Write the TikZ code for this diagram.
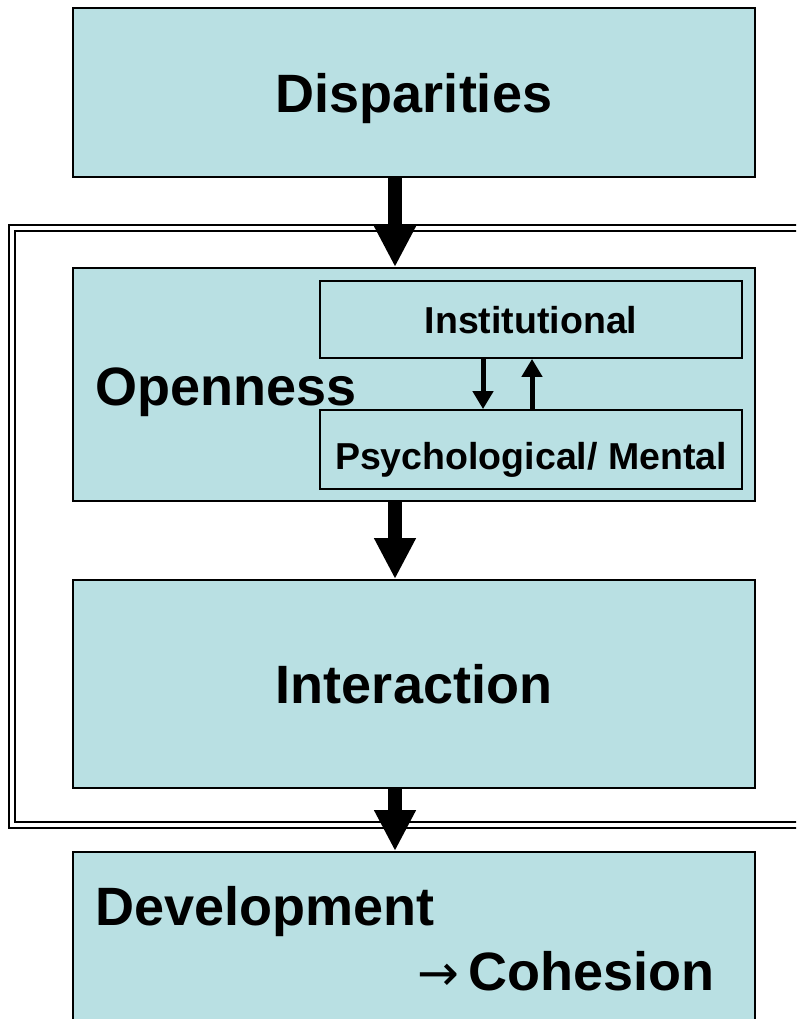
\documentclass[tikz,border=0pt]{standalone}
\usepackage{fontspec}
\setmainfont{Liberation Sans}
\newfontfamily\arrowfont{DejaVu Sans}
\usetikzlibrary{arrows.meta}
\definecolor{boxfill}{RGB}{185,224,227}
\begin{document}
\begin{tikzpicture}[x=1pt,y=-1pt,
  box/.style={draw=black,line width=1.8pt,fill=boxfill,rectangle,inner sep=0pt},
  big/.style={font=\fontsize{54}{60}\selectfont\bfseries,inner sep=0pt},
  small/.style={font=\fontsize{37.5}{42}\selectfont\bfseries,inner sep=0pt},
  fat/.style={line width=14pt,-{Triangle[width=39pt,length=41pt]}},
  smallarrow/.style={line width=5pt,-{Triangle[width=20pt,length=18pt]}},
  frameline/.style={draw=black}]
\useasboundingbox (0,0) rectangle (796,1019);
\clip (0,0) rectangle (796,1019);
\fill[white] (0,0) rectangle (796,1019);
% double frame
\draw[frameline,line width=2.4pt] (9,225) rectangle (830,828);
\draw[frameline,line width=2.8pt] (15,231) rectangle (830,822);
% boxes
\node[box, minimum width=682pt, minimum height=169pt] (disp) at (414,92.5) {};
\node[box, minimum width=682pt, minimum height=233pt] (open) at (414,384.5) {};
\node[box, minimum width=422pt, minimum height=77pt] (inst) at (531,319.5) {};
\node[box, minimum width=422pt, minimum height=79pt] (psy) at (531,449.5) {};
\node[box, minimum width=682pt, minimum height=208pt] (inter) at (414,684) {};
\node[box, minimum width=682pt, minimum height=188pt] (dev) at (414,946) {};
% texts
\node[big, anchor=base] (tdisp) at (414,113) {Disparities};
\node[big, anchor=base west] (topen) at (95,405) {Openness};
\node[small, anchor=base] (tinst) at (531,333) {Institutional};
\node[small, anchor=base] (tpsy) at (531,469) {Psychological/ Mental};
\node[big, anchor=base] (tint) at (414,703) {Interaction};
\node[big, anchor=base west] (tdev) at (95,925) {Development};
\node[big, anchor=base east] (tcoh) at (715,990) {{\arrowfont\fontsize{50}{54}\fontseries{m}\selectfont →}\,Cohesion};
% arrows
\coordinate (ax) at (395,0);
\coordinate (dx) at (483,0);
\coordinate (ux) at (532,0);
\draw[fat] (disp.south -| ax) -- (open.north -| ax);
\draw[fat] (open.south -| ax) -- (inter.north -| ax);
\draw[fat] (inter.south -| ax) -- (dev.north -| ax);
\draw[smallarrow] (inst.south -| dx) -- (psy.north -| dx);
\draw[smallarrow] (psy.north -| ux) -- (inst.south -| ux);
\end{tikzpicture}
\end{document}
